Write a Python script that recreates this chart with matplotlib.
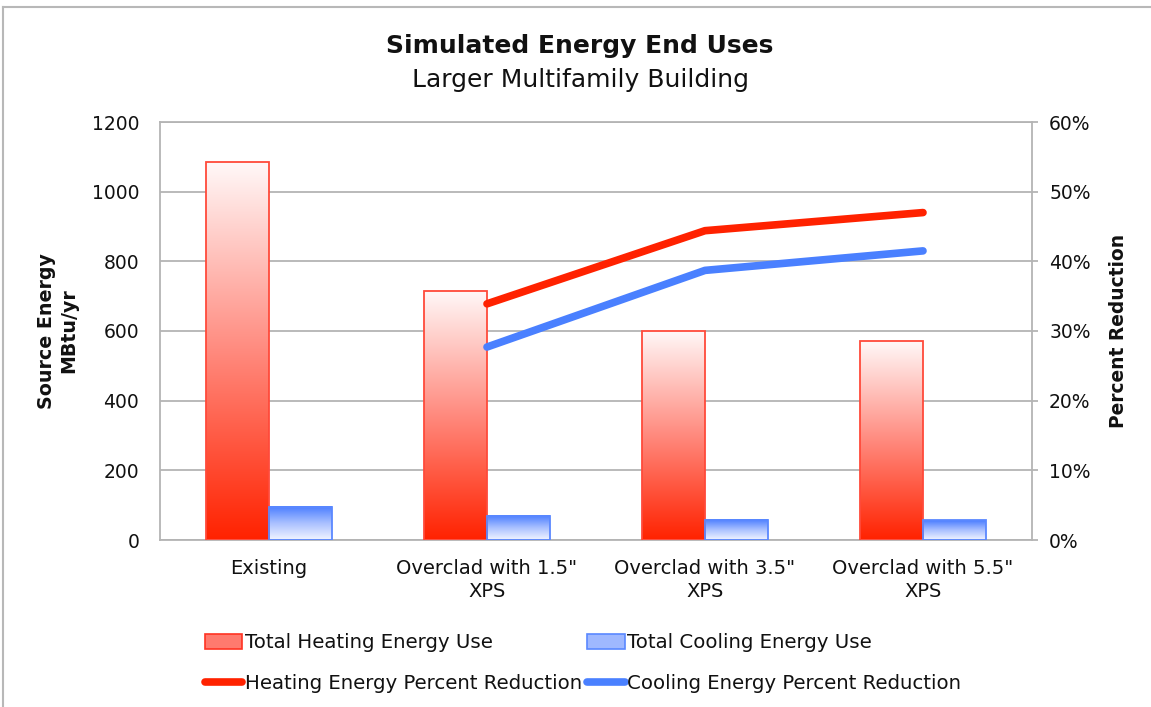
import numpy as np
import matplotlib
matplotlib.use('Agg')
import matplotlib.pyplot as plt
from matplotlib.colors import LinearSegmentedColormap
from matplotlib.lines import Line2D
from matplotlib.patches import Patch

# ---- data ----
categories = ['Existing', 'Overclad with 1.5"\nXPS', 'Overclad with 3.5"\nXPS', 'Overclad with 5.5"\nXPS']
heating_use = [1084, 716, 601, 571]
cooling_use = [96, 69, 58, 56]
heating_reduction = [np.nan, 33.9, 44.4, 47.0]
cooling_reduction = [np.nan, 27.7, 38.7, 41.5]
left_ticks = [0, 200, 400, 600, 800, 1000, 1200]
right_ticks = [0, 10, 20, 30, 40, 50, 60]
right_tick_labels = ['0%', '10%', '20%', '30%', '40%', '50%', '60%']

plt.rcParams['font.family'] = ['DejaVu Sans']

W, H = 1151, 707
fig = plt.figure(figsize=(W / 100, H / 100), dpi=100)
ax = fig.add_axes([160 / W, 1 - 540 / H, (1032 - 160) / W, (540 - 122) / H])
ax2 = ax.twinx()

GRID = '#b4b4b4'
HEAT = '#ff2200'
COOL = '#4a80ff'

x = np.arange(len(categories))
bw = 0.287
heat_cmap = LinearSegmentedColormap.from_list('heat', ['#ff2200', '#ff8a7e', '#fff8f8'])
cool_cmap = LinearSegmentedColormap.from_list('cool', ['#f2f5ff', '#a9c0ff', '#4a7dff'])

hb = ax.bar(x - bw / 2, heating_use, bw, facecolor='none', edgecolor='#ff4a3a', lw=1.3, zorder=3)
cb = ax.bar(x + bw / 2, cooling_use, bw, facecolor='none', edgecolor='#5a88ff', lw=1.3, zorder=3)
grad = np.linspace(0, 1, 256).reshape(-1, 1)
for bars, cmap in ((hb, heat_cmap), (cb, cool_cmap)):
    for r in bars:
        x0, w, h = r.get_x(), r.get_width(), r.get_height()
        ax.imshow(grad, extent=[x0, x0 + w, 0, h], origin='lower', cmap=cmap,
                  aspect='auto', zorder=2, interpolation='bilinear')

ax.set_xlim(-0.5, len(categories) - 0.5)
ax.set_ylim(0, 1200)
ax.set_aspect('auto')
ax.set_yticks(left_ticks)
ax.set_yticklabels([str(t) for t in left_ticks])
ax.set_xticks(x)
ax.set_xticklabels(categories, fontsize=14, color='#111111', linespacing=1.25)
ax.tick_params(axis='x', length=0, pad=14)
ax.tick_params(axis='y', length=0, pad=15, labelsize=13.5, labelcolor='#111111')
ax.yaxis.grid(True, color=GRID, lw=1.3)
ax.set_axisbelow(True)
ax.axhline(left_ticks[-1], color=GRID, lw=1.3, clip_on=False, zorder=0.5)
for s in ('top', 'right'):
    ax.spines[s].set_visible(False)
for s in ('left', 'bottom'):
    ax.spines[s].set_color(GRID)
    ax.spines[s].set_linewidth(1.3)

l1, = ax2.plot(x, heating_reduction, color=HEAT, lw=5.5, solid_capstyle='round', zorder=5)
l2, = ax2.plot(x, cooling_reduction, color=COOL, lw=5.5, solid_capstyle='round', zorder=5)
ax2.set_ylim(0, 60)
ax2.set_yticks(right_ticks)
ax2.set_yticklabels(right_tick_labels)
ax2.tick_params(axis='y', length=6 * 0.72, width=1.3, color=GRID, pad=8,
                labelsize=13.5, labelcolor='#111111')
for s in ('top', 'left', 'bottom'):
    ax2.spines[s].set_visible(False)
ax2.spines['right'].set_color(GRID)
ax2.spines['right'].set_linewidth(1.3)

# titles and axis labels
fig.text(580 / W, 1 - 53 / H, 'Simulated Energy End Uses', ha='center', va='baseline',
         fontsize=18, fontweight='bold', color='#111111')
fig.text(580 / W, 1 - 87 / H, 'Larger Multifamily Building', ha='center', va='baseline',
         fontsize=18, color='#111111')
fig.text(58 / W, 1 - 331 / H, 'Source Energy\nMBtu/yr', rotation=90, ha='center', va='center',
         fontsize=13.7, fontweight='bold', multialignment='center', linespacing=1.2, color='#111111')
fig.text(1118 / W, 1 - 331 / H, 'Percent Reduction', rotation=90, ha='center', va='center',
         fontsize=13.4, fontweight='bold', color='#111111')

# legend
handles = [Patch(facecolor='#ff7a6e', edgecolor='#ff3322', lw=1.2),
           Line2D([0], [0], color=HEAT, lw=5.5, solid_capstyle='round'),
           Patch(facecolor='#9fb8ff', edgecolor='#5a88ff', lw=1.2),
           Line2D([0], [0], color=COOL, lw=5.5, solid_capstyle='round')]
labels = ['Total Heating Energy Use', 'Heating Energy Percent Reduction',
          'Total Cooling Energy Use', 'Cooling Energy Percent Reduction']
fig.legend(handles, labels, ncol=2, loc='center', bbox_to_anchor=(583 / W, 1 - 663 / H),
           frameon=False, fontsize=14.2, handlelength=1.9, handleheight=0.8, handletextpad=0.15,
           columnspacing=0.25, labelspacing=1.1, borderpad=0, labelcolor='#111111')

# outer frame (top and left edges visible)
fig.add_artist(Line2D([3 / W, 1], [1 - 7 / H, 1 - 7 / H], transform=fig.transFigure,
                      color='#b8b8b8', lw=1.5))
fig.add_artist(Line2D([3 / W, 3 / W], [0, 1 - 7 / H], transform=fig.transFigure,
                      color='#b8b8b8', lw=1.5))

fig.savefig('out.png', dpi=100)
